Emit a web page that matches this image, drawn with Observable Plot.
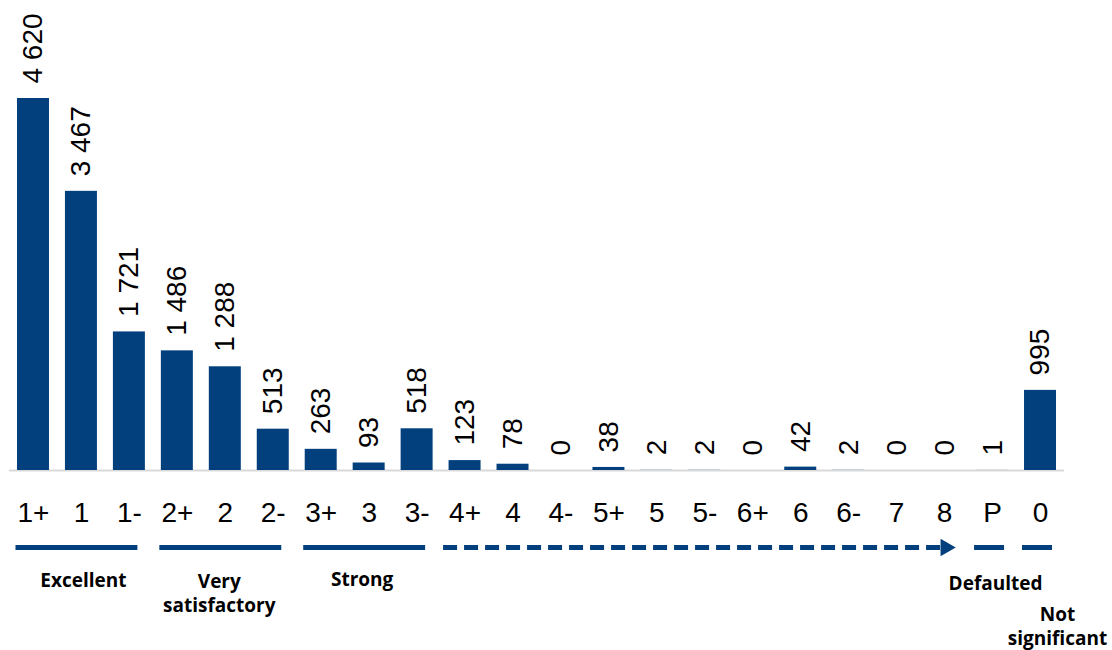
<!DOCTYPE html>
<html>
<head>
<meta charset="utf-8">
<script src="https://cdn.jsdelivr.net/npm/d3@7"></script>
<script src="https://cdn.jsdelivr.net/npm/@observablehq/plot@0.6"></script>
<style>
  html, body { margin: 0; padding: 0; background: #ffffff; }
  #chart { width: 1112px; height: 650px; }
</style>
</head>
<body>
<div id="chart"></div>
<script>
// ---- data ----
const categories = ["1+","1","1-","2+","2","2-","3+","3","3-","4+","4","4-","5+","5","5-","6+","6","6-","7","8","P","0"];
const values = [4620,3467,1721,1486,1288,513,263,93,518,123,78,0,38,2,2,0,42,2,0,0,1,995];

const groupNames = ["Excellent","Very\nsatisfactory","Strong","","Defaulted","Not\nsignificant"];
const groupFirst = ["1+","2+","3+","4+","P","0"];
const groupLast  = ["1-","2-","3-","8","P","0"];
const groupLabelAt = ["1","2","3",null,"P","0"];
const groupDashed = [false,false,false,true,false,false];

// ---- styling / layout (not data) ----
const BLUE = "#023f7d";
const NUM_FONT = "'Liberation Sans', Arial, sans-serif";
const LABEL_FONT = "'Open Sans', 'Liberation Sans', sans-serif";
const LINE_DY = 77;
const labelLayout = [
  {dx: 2, dy: 100},
  {dx: -6, dy: 101},
  {dx: -7, dy: 99},
  null,
  {dx: 3, dy: 103},
  {dx: 17, dy: 134}
];

const fmt = d3.formatLocale({decimal: ",", thousands: " ", grouping: [3], currency: ["", ""]}).format(",d");

const data = categories.map((c, i) => ({cat: c, value: values[i]}));
const groups = groupNames.map((name, i) => ({
  name, first: groupFirst[i], last: groupLast[i], at: groupLabelAt[i], dashed: groupDashed[i]
}));
const spanGroups = groups.filter(g => g.first !== g.last);
const singleGroups = groups.filter(g => g.first === g.last);

const labelMarks = groups.map((g, i) => g.at == null ? null : Plot.text([g], {
  x: "at", y: () => 0, text: "name",
  dx: labelLayout[i].dx, dy: labelLayout[i].dy,
  lineAnchor: "top", textAnchor: "middle",
  fontSize: 19, fontWeight: "bold", fontFamily: LABEL_FONT,
  lineHeight: 1.25, fill: "#000"
})).filter(Boolean);

const chart = Plot.plot({
  width: 1112,
  height: 650,
  marginLeft: 9,
  marginRight: 48,
  marginTop: 98,
  marginBottom: 180,
  style: {fontFamily: NUM_FONT, fontSize: "28px", color: "#000", background: "#fff", overflow: "visible"},
  x: {domain: categories, paddingInner: 0.333, paddingOuter: 0.1667, round: false, label: null},
  y: {domain: [0, 4620], axis: null},
  marks: [
    Plot.ruleY([0], {stroke: "#d9d9d9", strokeWidth: 2}),
    Plot.barY(data, {x: "cat", y: "value", fill: BLUE}),
    Plot.text(data, {
      x: "cat", y: "value", text: d => fmt(d.value),
      rotate: -90, textAnchor: "start", lineAnchor: "middle",
      dy: -15, fontSize: 28, fontFamily: NUM_FONT, fill: "#000"
    }),
    Plot.axisX({tickSize: 0, tickPadding: 32, fontSize: 28, fontFamily: NUM_FONT, label: null}),
    // solid group lines spanning several categories
    Plot.arrow(spanGroups.filter(g => !g.dashed), {
      x1: "first", x2: "last", y1: () => 0, y2: () => 0,
      dy: LINE_DY, insetStart: -18, insetEnd: -8, headLength: 0,
      stroke: BLUE, strokeWidth: 5, strokeLinecap: "butt"
    }),
    // single-category group lines
    Plot.tickY(singleGroups, {
      x: "first", y: () => 0, dy: LINE_DY, insetLeft: -2, insetRight: 4,
      stroke: BLUE, strokeWidth: 5, strokeLinecap: "butt"
    }),
    // dashed arrow
    Plot.arrow(spanGroups.filter(g => g.dashed), {
      x1: "first", x2: "last", y1: () => 0, y2: () => 0,
      dy: LINE_DY, insetStart: -22, insetEnd: 4, headLength: 0,
      stroke: BLUE, strokeWidth: 5, strokeLinecap: "butt", strokeDasharray: "14,7"
    }),
    Plot.dot(spanGroups.filter(g => g.dashed), {
      x: "last", y: () => 0, symbol: "triangle", r: 6.5, rotate: 90,
      fill: BLUE, stroke: "none", dx: 1, dy: LINE_DY
    }),
    ...labelMarks
  ]
});

document.getElementById("chart").appendChild(chart);
</script>
</body>
</html>
